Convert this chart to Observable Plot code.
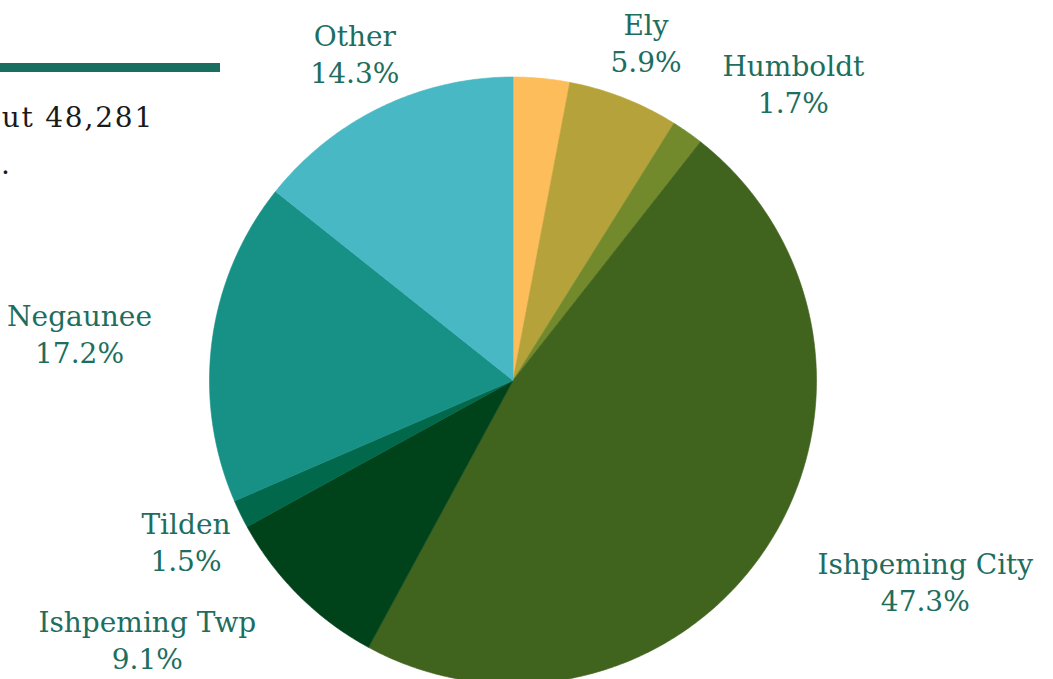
<!DOCTYPE html>
<html>
<head>
<meta charset="utf-8">
<script src="https://cdn.jsdelivr.net/npm/d3@7"></script>
<script src="https://cdn.jsdelivr.net/npm/@observablehq/plot@0.6"></script>
<style>
  html, body { margin: 0; padding: 0; background: #fff; overflow: hidden; }
  body { width: 1053px; height: 679px; position: relative; }
  #rule { position: absolute; left: 0; top: 63px; width: 220px; height: 9px; background: #1a6e5f; }
  .intro { position: absolute; font-family: "DejaVu Serif", serif; font-size: 28px; line-height: 1; color: #1a1a1a; white-space: nowrap; letter-spacing: 1.8px; }
  #chart { position: absolute; left: 0; top: 0; }
</style>
</head>
<body>
<div id="rule"></div>
<div class="intro" style="top:104px; right:899px">ut 48,281</div>
<div class="intro" style="top:151px; left:1px">.</div>
<div id="chart"></div>
<script>
// ---- data ----
const names  = ["Unlabeled", "Ely", "Humboldt", "Ishpeming City", "Ishpeming Twp", "Tilden", "Negaunee", "Other"];
const shares = [3.0, 5.9, 1.7, 47.3, 9.1, 1.5, 17.2, 14.3];
const showLabel = [false, true, true, true, true, true, true, true];
const colors = ["#fdbd5b", "#b6a23a", "#72892c", "#40631e", "#00431a", "#02684b", "#179086", "#48b8c4"];

// ---- layout ----
const W = 1053, H = 679;
const cx = 512.5, cy = 380, R = 303.5;
const fontFamily = "DejaVu Serif";
const fontSize = 28;
const lineH = 37;

const total = d3.sum(shares);
let acc = 0;
const slices = names.map((name, i) => {
  const a0 = acc / total * 2 * Math.PI;
  acc += shares[i];
  const a1 = acc / total * 2 * Math.PI;
  return {name, share: shares[i], color: colors[i], a0, a1, mid: (a0 + a1) / 2, show: showLabel[i]};
});

// polygon points for each slice (unit circle, clockwise from top)
const pts = [];
for (const s of slices) {
  pts.push({name: s.name, color: s.color, x: 0, y: 0});
  const n = Math.max(2, Math.ceil((s.a1 - s.a0) / (Math.PI / 360)));
  for (let k = 0; k <= n; k++) {
    const a = s.a0 + (s.a1 - s.a0) * k / n;
    pts.push({name: s.name, color: s.color, x: Math.sin(a), y: Math.cos(a)});
  }
  pts.push({name: s.name, color: s.color, x: 0, y: 0});
}

// labels: anchor point at 1.2 R on the mid-angle; block centred there if it clears the pie,
// otherwise its near edge is put on the anchor point. Lines are centred on each other.
const ctx = document.createElement("canvas").getContext("2d");
ctx.font = `${fontSize}px "${fontFamily}"`;
const labelR = 1.2;
const labels = slices.filter(s => s.show).map(s => {
  const text = `${s.name}\n${s.share.toFixed(1)}%`;
  const w = Math.max(...text.split("\n").map(t => ctx.measureText(t).width));
  const px = cx + labelR * R * Math.sin(s.mid);
  const py = cy - labelR * R * Math.cos(s.mid);
  const hw = w / 2, hh = lineH * 0.9;
  const corners = [[px - hw, py - hh], [px + hw, py - hh], [px - hw, py + hh], [px + hw, py + hh]];
  const fits = corners.every(([x, y]) => Math.hypot(x - cx, y - cy) > R);
  const shift = fits ? 0 : (Math.sin(s.mid) > 0 ? hw : -hw);
  return {text, x: labelR * Math.sin(s.mid) + shift / R, y: labelR * Math.cos(s.mid)};
});

const plot = Plot.plot({
  width: W, height: H,
  margin: 0,
  x: {domain: [-1, 1], range: [cx - R, cx + R], axis: null},
  y: {domain: [-1, 1], range: [cy + R, cy - R], axis: null},
  color: {type: "identity"},
  style: {background: "transparent", overflow: "hidden"},
  marks: [
    Plot.line(pts, {x: "x", y: "y", z: "name", fill: "color", stroke: "color", strokeWidth: 0.6, curve: "linear"}),
    Plot.text(labels, {
      x: "x", y: "y", text: "text", textAnchor: "middle", lineAnchor: "middle",
      lineHeight: lineH / fontSize, fill: "#1d6e5e", fontSize, fontFamily
    })
  ]
});
document.getElementById("chart").appendChild(plot);
</script>
</body>
</html>
